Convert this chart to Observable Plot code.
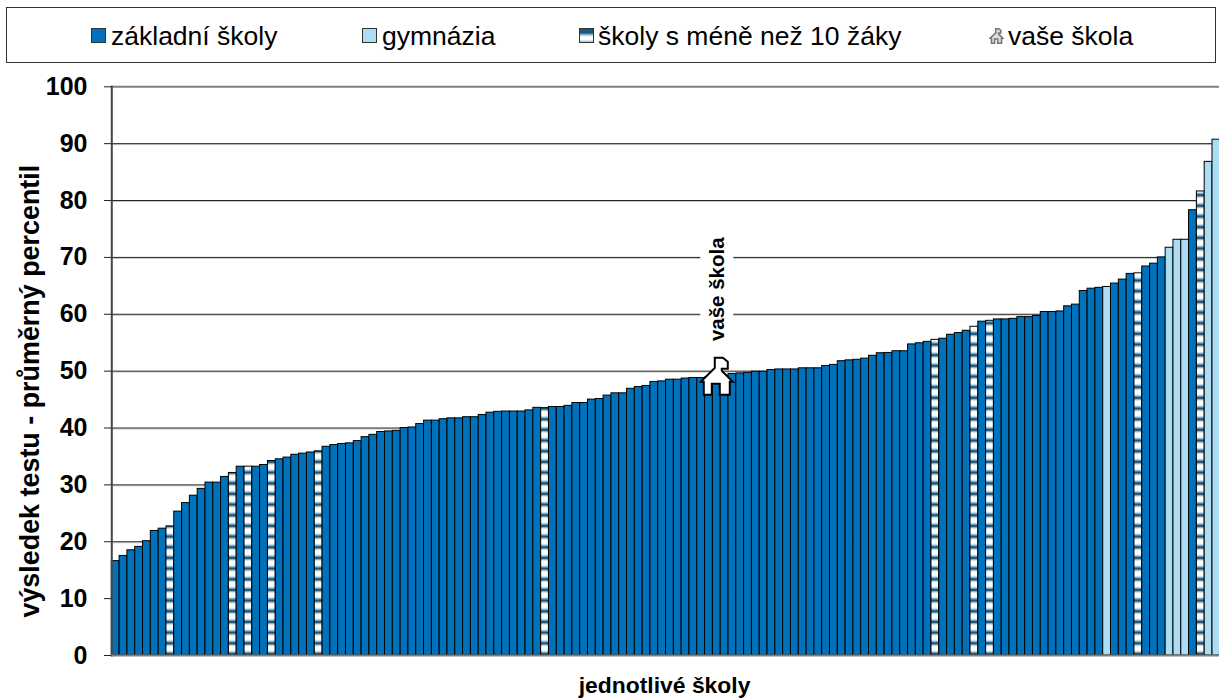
<!DOCTYPE html>
<html lang="cs">
<head>
<meta charset="utf-8">
<script src="https://cdn.jsdelivr.net/npm/d3@7"></script>
<script src="https://cdn.jsdelivr.net/npm/@observablehq/plot@0.6"></script>
<style>
  html, body { margin: 0; padding: 0; background: #fff; overflow: hidden; }
  #legend { position: relative; height: 70px; font: 26.5px "Liberation Sans", Arial, sans-serif; color: #000; }
  #legend .box { position: absolute; left: 6px; top: 7px; width: 1208px; height: 54px; border: 1px solid #333; }
  #legend .lbl { position: absolute; top: 22px; line-height: 28px; white-space: nowrap; }
  #legend .sw { position: absolute; top: 28px; width: 13px; height: 13px; border: 1px solid #333; }
  #legend svg { position: absolute; }
  svg.main { display: block; }
</style>
</head>
<body>
<div id="legend"><div class="box"></div></div>
<div id="chart"></div>
<script>
// ---- data ----
const values = [
  16.6, 17.5, 18.5, 19.1, 20.1, 21.9, 22.3, 22.7, 25.3, 26.8,
  28.1, 29.3, 30.4, 30.4, 31.4, 32.1, 33.2, 33.2, 33.2, 33.5,
  34.2, 34.5, 34.8, 35.3, 35.5, 35.7, 35.9, 36.7, 37.0, 37.2,
  37.3, 37.7, 38.4, 38.8, 39.3, 39.4, 39.5, 40.0, 40.1, 40.7,
  41.3, 41.3, 41.55, 41.7, 41.7, 41.9, 41.9, 42.3, 42.7, 42.85,
  42.9, 42.9, 42.9, 43.1, 43.55, 43.5, 43.7, 43.7, 43.9, 44.4,
  44.4, 45.0, 45.1, 45.7, 46.1, 46.1, 46.9, 47.2, 47.4, 48.1,
  48.2, 48.5, 48.5, 48.7, 48.8, 48.8, 48.9, 49.0, 49.2, 49.5,
  49.6, 49.7, 49.9, 49.9, 50.2, 50.3, 50.3, 50.3, 50.5, 50.5,
  50.5, 50.9, 51.1, 51.75, 51.9, 52.0, 52.2, 52.7, 53.15, 53.2,
  53.5, 53.5, 54.7, 54.9, 55.15, 55.5, 55.7, 56.4, 56.7, 57.1,
  57.8, 58.7, 58.85, 59.1, 59.1, 59.2, 59.5, 59.5, 59.7, 60.4,
  60.4, 60.5, 61.4, 61.7, 64.1, 64.5, 64.65, 64.8, 65.4, 66.1,
  67.1, 67.2, 68.4, 68.9, 70.0, 71.7, 73.1, 73.1, 78.3, 81.6,
  86.8, 90.7
];
const smallSchools = [7, 15, 17, 20, 26, 55, 105, 110, 112, 131, 139];
const gymnasiums = [127, 135, 136, 137, 140, 141];
const yourSchool = 77;
const yourSchoolLabelValue = 64.4;
const yTicks = [0, 10, 20, 30, 40, 50, 60, 70, 80, 90, 100];
const seriesNames = ["základní školy", "gymnázia", "školy s méně než 10 žáky", "vaše škola"];
const seriesColors = ["#0072BC", "#ADDDF4", "url(#stripes)"];
const yTitle = "výsledek testu - průměrný percentil";
const xTitle = "jednotlivé školy";

const schools = values.map((v, i) => ({
  i, v,
  type: smallSchools.includes(i) ? seriesNames[2] : gymnasiums.includes(i) ? seriesNames[1] : seriesNames[0]
}));

// ---- legend ----
const legend = d3.select("#legend");
const housePath = "M-2,-19 L6,-19 L11,-15 L11,-8 L5,-8 L5,-6 L16,5 L13,5 L13,18 L3,18 L3,7 L-5,7 L-5,18 L-13,18 L-13,5 L-16,5 L-2,-9 Z";
const entries = [
  {sw: 91, tx: 111, bg: seriesColors[0]},
  {sw: 362, tx: 382, bg: seriesColors[1]},
  {sw: 579, tx: 598, bg: "linear-gradient(#17587f 0 30%, #9fc0d4 45%, #fff 60%, #fff 80%, #9fc0d4 100%)"},
  {sw: 989, tx: 1008, house: true}
];
entries.forEach((e, k) => {
  legend.append("div").attr("class", "lbl").style("left", e.tx + "px").text(seriesNames[k]);
  if (e.house) {
    const s = legend.append("svg").attr("width", 15).attr("height", 16)
      .style("left", e.sw + "px").style("top", "28px").attr("viewBox", "-18 -21 36 41");
    s.append("path").attr("d", housePath).attr("fill", "#ddd").attr("stroke", "#777").attr("stroke-width", 4);
  } else {
    legend.append("div").attr("class", "sw").style("left", e.sw + "px").style("background", e.bg);
  }
});

// ---- chart ----
const houseSymbol = {
  draw(ctx) {
    const p = housePath.match(/[ML][^ML Z]+|Z/g);
    for (const c of p) {
      if (c === "Z") { ctx.closePath(); continue; }
      const [x, y] = c.slice(1).split(",").map(Number);
      c[0] === "M" ? ctx.moveTo(x, y) : ctx.lineTo(x, y);
    }
  }
};

function stripeDefs() {
  const defs = d3.create("svg:defs");
  const pat = defs.append("pattern").attr("id", "stripes")
    .attr("patternUnits", "userSpaceOnUse").attr("width", 12).attr("height", 10.67);
  const bands = [[0, 4.6, "#fff"], [4.6, 1, "#c9dae4"], [5.6, 1, "#7fa5bb"], [6.6, 2.4, "#17587f"], [9, 0.9, "#6f9ab3"], [9.9, 0.77, "#c9dae4"]];
  bands.forEach(([y, h, c]) => pat.append("rect").attr("x", 0).attr("y", y).attr("width", 12).attr("height", h + 0.05).attr("fill", c));
  return defs.node();
}

const chart = Plot.plot({
  width: 1219,
  height: 629,
  marginLeft: 111.3,
  marginRight: -0.8,
  marginTop: 16.3,
  marginBottom: 44,
  style: {background: "transparent", fontFamily: "'Liberation Sans', Arial, sans-serif", color: "#000"},
  x: {type: "band", domain: d3.range(values.length), padding: 0, round: false, axis: null},
  y: {domain: [0, 100]},
  color: {domain: seriesNames.slice(0, 3), range: seriesColors},
  marks: [
    stripeDefs,
    Plot.ruleY(yTicks.slice(1, -1), {stroke: "#c8c8c8", strokeWidth: 1, dy: 1}),
    Plot.ruleY(yTicks.slice(1, -1), {stroke: "#222", strokeWidth: 1}),
    Plot.ruleX([yourSchool], {y1: 53, y2: 73, stroke: "#fff", strokeWidth: 33}),
    Plot.barY(schools, {x: "i", y: "v", fill: "type", stroke: "#000", strokeWidth: 1}),
    Plot.frame({anchor: "top", stroke: "#808080", strokeWidth: 2}),
    Plot.frame({anchor: "left", stroke: "#444", strokeWidth: 2}),
    Plot.frame({anchor: "bottom", stroke: "#808080", strokeWidth: 2}),
    Plot.axisY({ticks: yTicks, tickSize: 7.3, tickPadding: 17, fontSize: 25, fontWeight: "bold", label: null, stroke: "#222"}),
    Plot.text([yTitle], {frameAnchor: "left", textAnchor: "middle", dx: -81.5, dy: 20, rotate: -90, fontSize: 26.9, fontWeight: "bold", fill: "#000"}),
    Plot.text([xTitle], {frameAnchor: "bottom", textAnchor: "middle", dy: 37, dx: -1.5, fontSize: 22.9, fontWeight: "bold", fill: "#000"}),
    Plot.text(["vaše škola"], {x: () => yourSchool, y: () => yourSchoolLabelValue, dx: 1, rotate: -90, fontSize: 20.5, fontWeight: "bold", fill: "#000"}),
    Plot.dot([yourSchool], {x: d => d, y: d => values[d], symbol: houseSymbol, fill: "#fff", stroke: "#000", strokeWidth: 2})
  ]
});
chart.classList.add("main");
document.getElementById("chart").append(chart);
</script>
</body>
</html>
